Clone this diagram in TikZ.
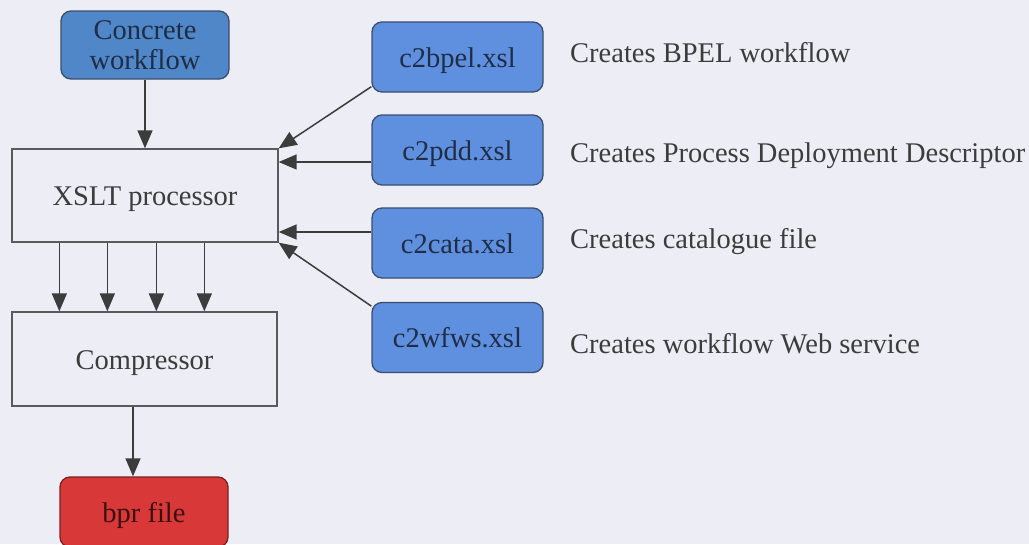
\documentclass[tikz,border=0pt]{standalone}
\usepackage{fontspec}
\setmainfont{Liberation Serif}
\usetikzlibrary{arrows.meta,calc}

\definecolor{paper}{HTML}{EDEDF5}
\definecolor{inkgray}{HTML}{3C3C3C}
\definecolor{framegray}{HTML}{5A5A5A}
\definecolor{xslblue}{HTML}{5F8FDF}
\definecolor{wfblue}{HTML}{5087C9}
\definecolor{blueedge}{HTML}{3B4E6E}
\definecolor{bluetext}{HTML}{1F2D45}
\definecolor{filered}{HTML}{D93838}
\definecolor{rededge}{HTML}{7A2020}
\definecolor{redtext}{HTML}{3A1010}

\tikzset{
  basefont/.style={font=\fontsize{28.5}{30}\selectfont},
  lowtext/.style={text height=21pt, text depth=1pt},
  procbox/.style={draw=framegray, line width=1.3pt, fill=paper,
    inner sep=0pt, text=inkgray, lowtext},
  filebox/.style={draw=blueedge, line width=1.3pt, fill=xslblue,
    rounded corners=10pt, inner sep=0pt, text=bluetext,
    minimum width=171pt, minimum height=70pt},
  arr/.style={draw=inkgray, line width=1.5pt,
    -{Triangle[length=18pt,width=15pt]}},
  note/.style={anchor=base west, inner sep=0pt, text=inkgray}
}

\begin{document}
\begin{tikzpicture}[x=1pt, y=-1pt, basefont]
  \fill[paper] (0,0) rectangle (1029,544);
  \useasboundingbox (0,0) rectangle (1029,544);

  % input workflow
  \node[filebox, fill=wfblue, minimum width=168pt, minimum height=68pt,
        align=center] (concrete) at (145,45) {Concrete\\workflow};

  % processing stages
  \node[procbox, minimum width=266pt, minimum height=93pt]
        (xslt) at (145,195.5) {XSLT processor};
  \node[procbox, minimum width=265pt, minimum height=94pt]
        (compressor) at (144.5,359) {Compressor};

  % output archive
  \node[filebox, fill=filered, draw=rededge, text=redtext, lowtext,
        minimum width=168pt] (bpr) at (144,512) {bpr file};

  % stylesheets
  \node[filebox, lowtext] (c2bpel) at (457.5,57)    {c2bpel.xsl};
  \node[filebox, lowtext] (c2pdd)  at (457.5,150)   {c2pdd.xsl};
  \node[filebox, lowtext] (c2cata) at (457.5,243)   {c2cata.xsl};
  \node[filebox, lowtext] (c2wfws) at (457.5,337.5) {c2wfws.xsl};

  % what each stylesheet produces
  \node[note] (lbpel) at (570,62)  {Creates BPEL workflow};
  \node[note] (lpdd)  at (570,162) {Creates Process Deployment Descriptor};
  \node[note] (lcata) at (570,248) {Creates catalogue file};
  \node[note] (lwfws) at (570,353) {Creates workflow Web service};

  % connectors
  \draw[arr] (concrete.south) -- (xslt.north);
  \draw[arr] (c2bpel.199) -- (xslt.north east);
  \coordinate (pddout) at ([yshift=-12pt]c2pdd.west);
  \draw[arr] (pddout) -- (pddout -| xslt.east);
  \coordinate (cataout) at ([yshift=11pt]c2cata.west);
  \draw[arr] (cataout) -- (cataout -| xslt.east);
  \draw[arr] (c2wfws.160) -- (xslt.south east);

  \foreach \dx/\nm in {48/a, 96/b, 145/c, 193/d}{
    \coordinate (out\nm) at ([xshift=\dx pt]xslt.south west);
    \draw[arr] (out\nm) -- (out\nm |- compressor.north);
  }

  \coordinate (zipout) at ([xshift=-11.5pt]compressor.south);
  \draw[arr] (zipout) -- (zipout |- bpr.north);
\end{tikzpicture}
\end{document}
